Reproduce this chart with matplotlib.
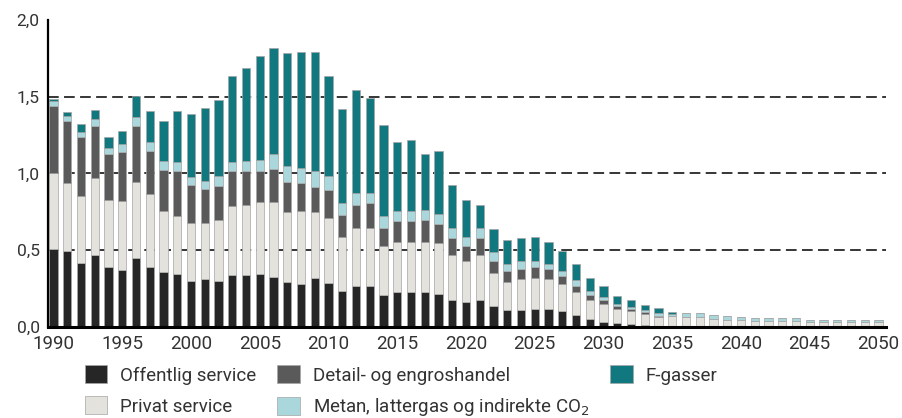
import numpy as np
import matplotlib
matplotlib.use("Agg")
import matplotlib.pyplot as plt
from matplotlib.patches import Patch

plt.rcParams['font.family'] = ['Liberation Sans Narrow', 'Roboto', 'DejaVu Sans']
plt.rcParams['mathtext.fontset'] = 'custom'
plt.rcParams['mathtext.rm'] = 'Liberation Sans Narrow'

years = np.arange(1990, 2051)

# Mio. ton CO2e
offentlig = [0.51, 0.495, 0.42, 0.47, 0.394, 0.37, 0.447, 0.39, 0.36, 0.344,
             0.30, 0.31, 0.30, 0.336, 0.336, 0.344, 0.327, 0.294, 0.277, 0.32,
             0.285, 0.235, 0.268, 0.268, 0.211, 0.227, 0.227, 0.227, 0.218, 0.179,
             0.161, 0.179, 0.135, 0.111, 0.111, 0.12, 0.12, 0.102, 0.076, 0.052,
             0.035, 0.026, 0.017, 0.011, 0.003, 0.001,
             0, 0, 0, 0, 0, 0, 0, 0, 0, 0, 0, 0, 0, 0, 0]
privat = [0.49, 0.445, 0.435, 0.50, 0.436, 0.45, 0.50, 0.475, 0.396, 0.377,
          0.377, 0.37, 0.40, 0.453, 0.461, 0.471, 0.488, 0.453, 0.479, 0.427,
          0.427, 0.353, 0.379, 0.379, 0.318, 0.329, 0.329, 0.329, 0.329, 0.292,
          0.268, 0.292, 0.218, 0.183, 0.201, 0.20, 0.192, 0.177, 0.153, 0.127,
          0.118, 0.094, 0.085, 0.074, 0.06, 0.068,
          0.063, 0.063, 0.055, 0.048, 0.043, 0.04, 0.04, 0.04, 0.04, 0.033,
          0.03, 0.03, 0.033, 0.033, 0.033]
detail = [0.44, 0.40, 0.385, 0.34, 0.294, 0.32, 0.36, 0.283, 0.266, 0.294,
          0.25, 0.218, 0.218, 0.226, 0.218, 0.20, 0.215, 0.20, 0.183, 0.168,
          0.183, 0.142, 0.15, 0.159, 0.118, 0.132, 0.132, 0.141, 0.124, 0.109,
          0.10, 0.109, 0.076, 0.068, 0.067, 0.074, 0.067, 0.05, 0.041, 0.032,
          0.026, 0.015, 0.015, 0.011, 0.008, 0.002,
          0, 0, 0, 0, 0, 0, 0, 0, 0, 0, 0, 0, 0, 0, 0]
metan = [0.035, 0.035, 0.033, 0.045, 0.04, 0.05, 0.06, 0.059, 0.058, 0.059,
         0.05, 0.056, 0.067, 0.063, 0.065, 0.074, 0.094, 0.10, 0.10, 0.098,
         0.088, 0.076, 0.074, 0.065, 0.074, 0.068, 0.068, 0.066, 0.068, 0.067,
         0.059, 0.067, 0.059, 0.05, 0.05, 0.035, 0.033, 0.033, 0.033, 0.026,
         0.015, 0.018, 0.016, 0.015, 0.017, 0.011,
         0.028, 0.026, 0.025, 0.024, 0.02, 0.018, 0.018, 0.018, 0.018, 0.015,
         0.017, 0.017, 0.015, 0.015, 0.015]
fgas = [0.013, 0.025, 0.05, 0.06, 0.076, 0.09, 0.137, 0.2, 0.26, 0.333,
        0.412, 0.47, 0.495, 0.556, 0.604, 0.678, 0.693, 0.738, 0.754, 0.78,
        0.653, 0.612, 0.674, 0.621, 0.593, 0.451, 0.46, 0.361, 0.409, 0.277,
        0.242, 0.15, 0.148, 0.152, 0.151, 0.159, 0.141, 0.133, 0.109, 0.083,
        0.076, 0.05, 0.045, 0.032, 0.033, 0.017,
        0, 0, 0, 0, 0, 0, 0, 0, 0, 0, 0, 0, 0, 0, 0]

labels = ['Offentlig service', 'Privat service', 'Detail- og engroshandel',
          'Metan, lattergas og indirekte CO$_2$', 'F-gasser']
colors = ['#262626', '#e4e2dc', '#5a5a5a', '#a9d7dc', '#127880']
series = [offentlig, privat, detail, metan, fgas]

fig = plt.figure(figsize=(9.02, 4.18), dpi=100)
ax = fig.add_axes([0.0532, 0.2177, 0.9290, 0.7345])

for y in [0.5, 1.0, 1.5]:
    ax.axhline(y, color='black', lw=1.1, linestyle=(0, (7, 3.5)), zorder=0)

bottom = np.zeros(len(years))
for vals, col in zip(series, colors):
    vals = np.array(vals)
    ax.bar(years, vals, bottom=bottom, width=0.6, color=col,
           edgecolor='#a5a5a5', linewidth=0.5, zorder=2)
    bottom += vals

ax.set_xlim(1989.6, 2050.55)
ax.set_ylim(0, 2.0)
ax.set_yticks([0, 0.5, 1.0, 1.5, 2.0])
ax.set_yticklabels(['0,0', '0,5', '1,0', '1,5', '2,0'], family='Roboto', fontsize=12.5)
ax.set_xticks(np.arange(1990, 2051, 5))
ax.tick_params(axis='both', length=0, colors='#333333')
ax.tick_params(axis='x', labelsize=13.5, pad=6)
ax.tick_params(axis='y', pad=6)

for s in ['top', 'right']:
    ax.spines[s].set_visible(False)
ax.spines['left'].set_linewidth(1.6)
ax.spines['bottom'].set_linewidth(2.2)
ax.spines['bottom'].set_zorder(3)

handles = [Patch(facecolor=c, edgecolor='#a5a5a5', linewidth=0.5) for c in colors]
fig.legend(handles, labels, ncol=3, loc='center left',
           bbox_to_anchor=(0.094, 0.063), frameon=False, fontsize=13.5,
           borderpad=0, borderaxespad=0, handlelength=1.2, handleheight=1.1,
           handletextpad=0.7, columnspacing=1.1, labelspacing=0.62,
           labelcolor='#333333')

fig.savefig('out.png', dpi=100)
